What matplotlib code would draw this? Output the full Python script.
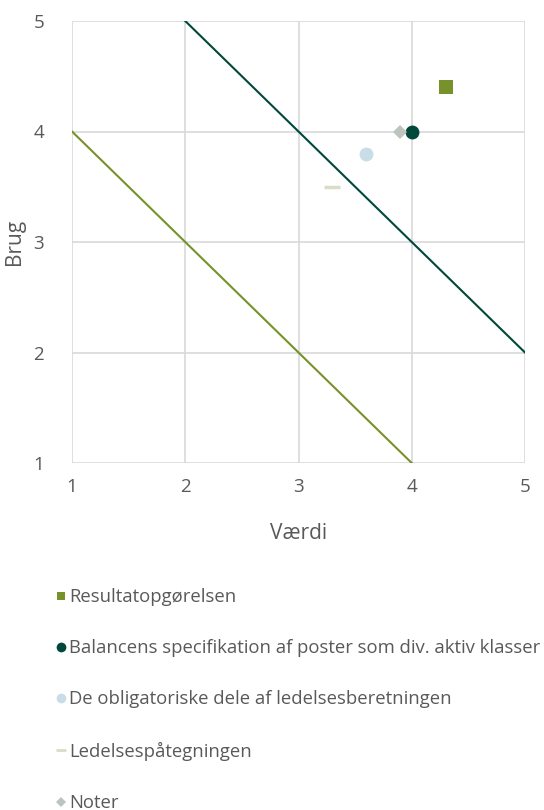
import matplotlib
matplotlib.use("Agg")
import matplotlib.pyplot as plt
from matplotlib.lines import Line2D

plt.rcParams['font.family'] = ['Open Sans', 'DejaVu Sans']

series_names = ["Resultatopgørelsen",
                "Balancens specifikation af poster som div. aktiv klasser",
                "De obligatoriske dele af ledelsesberetningen",
                "Ledelsespåtegningen",
                "Noter"]
series_x = [4.3, 4.0, 3.6, 3.3, 3.9]
series_y = [4.4, 4.0, 3.8, 3.5, 4.0]
series_colors = ["#77922A", "#00483A", "#C9DDE8", "#D8DEC6", "#BDC3BD"]
series_markers = ["s", "o", "o", "_", "D"]
series_sizes = [10, 10, 10, 12, 7]

line1_x = [2, 5]
line1_y = [5, 2]
line2_x = [1, 4]
line2_y = [4, 1]

ticks = [1, 2, 3, 4, 5]

fig = plt.figure(figsize=(5.44, 8.10), dpi=100)
ax = fig.add_axes([72/544, 1-463/810, (525-72)/544, (463-21)/810])

ax.plot(line1_x, line1_y, color="#00483A", lw=1.5, zorder=2)
ax.plot(line2_x, line2_y, color="#77922A", lw=1.5, zorder=2)

handles = []
for name, x, y, c, m, s in zip(series_names, series_x, series_y, series_colors, series_markers, series_sizes):
    mew = 2.5 if m == "_" else 0
    ax.plot([x], [y], marker=m, color=c, markersize=s, markeredgewidth=mew, linestyle="none", zorder=3)
    hs = {"s": 6, "o": 7, "_": 7, "D": 5}[m]
    handles.append(Line2D([], [], marker=m, color=c, markersize=hs, markeredgewidth=(2 if m == "_" else 0),
                          linestyle="none", label=name))

ax.set_xlim(1, 5)
ax.set_ylim(1, 5)
ax.set_xticks(ticks)
ax.set_yticks(ticks)
ax.grid(True, color="#D9D9D9", lw=1.2)
ax.set_axisbelow(True)
for sp in ax.spines.values():
    sp.set_visible(False)
ax.tick_params(axis="x", length=0, labelsize=13.5, colors="#595959", pad=11)
ax.tick_params(axis="y", length=0, labelsize=13.5, colors="#595959", pad=20)
ax.set_xlabel("Værdi", fontsize=15, color="#595959", labelpad=19)
ax.set_ylabel("Brug", fontsize=15, color="#595959", labelpad=6)

leg = fig.legend(handles=handles, loc="upper left", bbox_to_anchor=(55/544, 1-588/810),
                 frameon=False, fontsize=13.3, labelspacing=1.8, handlelength=0.6,
                 handletextpad=0.15, borderaxespad=0, borderpad=0)
for t in leg.get_texts():
    t.set_color("#595959")

fig.savefig("out.png", dpi=100)
